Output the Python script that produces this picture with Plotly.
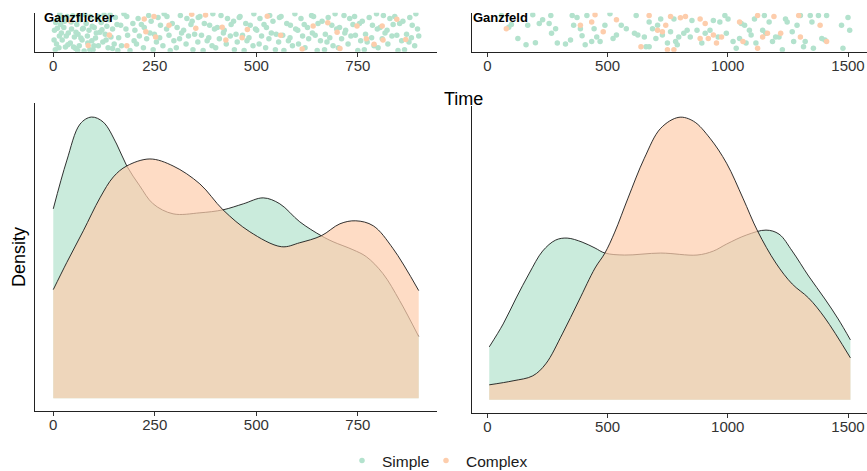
import plotly.graph_objects as go

# ---------------- data ----------------
groups = ["Simple", "Complex"]
colors = {"Simple": "#B3E2CD", "Complex": "#FDCDAC"}
fills = {"Simple": "rgba(179,226,205,0.7)", "Complex": "rgba(253,205,172,0.7)"}
panels = ["Ganzflicker", "Ganzfeld"]

x_ticks_gflk = [0, 250, 500, 750]
x_ticks_gfld = [0, 500, 1000, 1500]

# strip points: (time, jitter)
ganzflicker_simple = [
    (3,.55),(8,.2),(12,.85),(15,.4),(18,.7),(5,.05),(22,.3),(26,.62),(30,.12),(34,.9),(37,.48),(28,.78),
    (42,.22),(45,.58),(48,.92),(52,.38),(55,.08),(58,.7),(61,.45),(64,.15),(67,.82),(71,.3),(74,.6),(78,.95),(76,.02),
    (81,.72),(84,.4),(88,.55),(92,.9),(95,.28),(98,.05),(101,.62),(104,.35),(108,.85),(111,.15),(115,.5),(118,.75),
    (122,.25),(125,.95),(128,.45),(132,.65),(135,.1),(138,.82),(142,.38),(146,.58),(150,.2),(153,.88),(157,.7),(159,.03),
    (2,.3),(6,.75),(10,.6),(14,.1),(20,.48),(24,.88),(32,.4),(36,.18),(44,.76),(50,.12),(56,.5),(62,.92),(68,.35),
    (72,.58),(85,.22),(90,.05),(96,.65),(106,.48),(112,.9),(120,.56),(130,.3),(140,.95),(146,.08),(60,.03),(16,.97),(100,.15),
    (161,.36),(166,.68),(168,.15),(174,.97),(179,.58),(181,.9),(183,.42),(189,.03),(196,.72),(199,.28),
    (201,.55),(205,.2),(209,.85),(212,.4),(217,.7),(222,.1),(224,.62),(230,.33),(235,.93),(238,.48),
    (241,.78),(246,.05),(249,.45),(254,.25),(258,.88),(262,.36),(264,.68),(270,.15),(273,.97),(279,.58),
    (280,.9),(285,.42),(288,.03),(293,.72),(297,.28),(303,.1),(305,.62),(311,.33),(313,.93),(316,.48),
    (321,.55),(327,.2),(329,.85),(333,.4),(339,.7),(342,.78),(344,.05),(348,.45),(356,.25),(357,.88),
    (361,.9),(365,.42),(369,.03),(372,.72),(379,.28),(383,.36),(385,.68),(391,.15),(393,.97),(397,.58),
    (400,.1),(404,.62),(409,.33),(413,.93),(419,.48),(421,.55),(426,.2),(429,.85),(436,.4),(438,.7),
    (444,.78),(446,.05),(450,.45),(453,.25),(458,.88),(460,.9),(466,.42),(470,.03),(474,.72),(477,.28),
    (482,.36),(485,.68),(492,.15),(494,.97),(498,.58),(501,.55),(507,.2),(509,.85),(513,.4),(519,.7),
    (523,.1),(525,.62),(531,.33),(533,.93),(537,.48),(541,.78),(547,.05),(549,.45),(555,.25),(557,.88),
    (561,.9),(565,.42),(568,.03),(575,.72),(579,.28),(583,.36),(584,.68),(589,.15),(595,.97),(597,.58),
    (602,.55),(604,.2),(610,.85),(614,.4),(618,.7),(620,.1),(626,.62),(629,.33),(636,.93),(638,.48),
    (641,.9),(645,.42),(650,.03),(652,.72),(658,.28),(662,.78),(668,.05),(670,.45),(674,.25),(677,.88),
    (681,.36),(686,.68),(689,.15),(694,.97),(698,.58),(702,.1),(705,.62),(710,.33),(716,.93),(718,.48),
    (720,.55),(726,.2),(730,.85),(733,.4),(738,.7),(742,.9),(744,.42),(750,.03),(754,.72),(757,.28),
    (761,.78),(766,.05),(769,.45),(773,.25),(778,.88),(784,.36),(786,.68),(790,.15),(796,.97),(798,.58),
    (800,.1),(805,.62),(810,.33),(813,.93),(817,.48),(822,.55),(824,.2),(829,.85),(834,.4),(837,.7),
    (841,.9),(846,.42),(849,.03),(853,.72),(858,.28),(861,.78),(865,.05),(870,.45),(876,.25),(878,.88),
    (882,.36),(884,.68),(890,.15),(893,.97),(897,.58),(900,.4),
]
ganzflicker_complex = [
    (40,.8),(86,.16),(138,.43),(181,.15),(228,.51),(224,.84),(248,.9),(252,.38),(285,.68),(341,.96),
    (375,.94),(351,.6),(416,.63),(425,.30),(465,.36),(478,.57),(527,.91),(560,.42),(613,.07),(640,.66),
    (676,.74),(699,.5),(706,.08),(748,.66),(771,.33),(790,.19),(810,.66),(846,.83),(868,.31),(812,.3),
]
ganzfeld_simple = [
    (59,.93),(89,.63),(100,.70),(127,.34),(161,.18),(168,.68),(189,.95),(200,.23),(216,.72),(230,.82),
    (257,.72),(264,.93),(267,.47),(284,.59),(291,.22),(325,.2),(346,.3),(353,.93),(359,.68),(373,.88),
    (387,.59),(394,.41),(407,.18),(414,.93),(434,.26),(444,.59),(455,.38),(469,.26),(489,.68),(510,.97),
    (523,.34),(537,.43),(557,.68),(578,.59),(612,.47),(619,.93),(626,.43),(653,.38),(660,.13),(673,.13),
    (673,.76),(687,.59),(701,.34),(708,.68),(721,.84),(728,.43),(749,.22),(762,.51),(776,.84),(783,.26),
    (790,.18),(796,.38),(817,.47),(831,.55),(844,.38),(851,.8),(872,.55),(892,.22),(906,.47),(926,.55),
    (940,.8),(960,.38),(967,.76),(988,.93),(994,.47),(1001,.84),(1022,.26),(1035,.09),(1049,.34),(1056,.72),
    (1070,.68),(1076,.22),(1090,.55),(1097,.43),(1111,.84),(1117,.22),(1145,.55),(1152,.93),(1158,.47),(1172,.76),
    (1186,.26),(1199,.38),(1213,.38),(1227,.05),(1240,.84),(1247,.76),(1268,.51),(1274,.26),(1288,.68),(1302,.93),
    (1315,.13),(1322,.26),(1343,.93),(1350,.76),(1356,.09),(1377,.93),(1391,.34),(1404,.3),(1411,.93),(1473,.68),
    (1479,.09),(1500,.88),(1507,.55),
]
ganzfeld_complex = [
    (79,.59),(387,.68),(434,.76),(448,.95),(482,.51),(537,.82),(639,.13),(673,.93),(708,.55),(728,.51),
    (742,.68),(749,.05),(776,.05),(762,.9),(803,.87),(824,.9),(885,.84),(906,.72),(885,.34),(919,.34),
    (940,.43),(953,.22),(974,.38),(1049,.76),(1063,.26),(1124,.93),(1124,.09),(1192,.9),(1165,.47),(1220,.47),
    (1295,.93),(1302,.38),(1384,.68),(1411,.26),(1145,.38),
]

# density curves: (time, relative density)
dens_ganzflicker_simple = [
    (0,190),(33,238),(66,275),(94,282),(123,277),(156,255),(181,233),(213,213),(246,195),(295,185),(361,186),
    (418,189),(468,195),(517,201),(558,195),(607,177),(660,163),(689,157),(738,149),(771,142),(812,125),(853,98),(900,62),
]
dens_ganzflicker_complex = [
    (0,109),(33,136),(74,168),(115,201),(148,222),(181,233),(238,240),(295,233),(361,215),(418,189),(484,167),
    (562,152),(607,156),(660,163),(706,175),(745,178),(788,173),(837,150),(900,108),
]
dens_ganzfeld_simple = [
    (8,53),(66,76),(120,102),(175,127),(230,149),(284,160),(332,162),(394,158),(448,152),(489,147),(571,145),
    (721,147),(872,145),(940,149),(995,156),(1077,165),(1159,170),(1213,166),(1268,149),(1336,124),(1404,101),
    (1459,81),(1510,60),
]
dens_ganzfeld_complex = [
    (8,15),(107,19),(189,24),(243,36),(312,66),(380,99),(448,132),(489,147),(530,168),(585,202),(653,242),
    (721,272),(797,283),(858,279),(926,262),(995,237),(1063,202),(1124,169),(1200,137),(1268,116),(1336,102),
    (1404,82),(1510,42),
]

# ---------------- layout geometry ----------------
W, H = 867, 471
FONT = "Liberation Sans, Arial, sans-serif"

def px_x(p):
    return p / W

def px_y(p):
    return 1 - p / H

fig = go.Figure()

strips = {
    ("Ganzflicker", "Simple"): ganzflicker_simple,
    ("Ganzflicker", "Complex"): ganzflicker_complex,
    ("Ganzfeld", "Simple"): ganzfeld_simple,
    ("Ganzfeld", "Complex"): ganzfeld_complex,
}
dens = {
    ("Ganzflicker", "Simple"): dens_ganzflicker_simple,
    ("Ganzflicker", "Complex"): dens_ganzflicker_complex,
    ("Ganzfeld", "Simple"): dens_ganzfeld_simple,
    ("Ganzfeld", "Complex"): dens_ganzfeld_complex,
}
axes_strip = {"Ganzflicker": ("x", "y"), "Ganzfeld": ("x2", "y2")}
axes_dens = {"Ganzflicker": ("x3", "y3"), "Ganzfeld": ("x4", "y4")}
legend_of = {"Simple": "legend", "Complex": "legend2"}

for p in panels:
    for g in groups:
        pts = strips[(p, g)]
        xa, ya = axes_strip[p]
        fig.add_trace(go.Scatter(
            x=[t for t, _ in pts], y=[j for _, j in pts], mode="markers",
            marker=dict(color=colors[g], size=5.5, line=dict(width=0)),
            name=g, legendgroup=g, showlegend=(p == "Ganzflicker"), legend=legend_of[g],
            xaxis=xa, yaxis=ya, hoverinfo="skip"))

for p in panels:
    for g in groups:
        pts = dens[(p, g)]
        xa, ya = axes_dens[p]
        fig.add_trace(go.Scatter(
            x=[t for t, _ in pts], y=[d for _, d in pts], mode="lines",
            line=dict(color="#1a1a1a", width=0.9, shape="spline", smoothing=1.0),
            fill="tozeroy", fillcolor=fills[g], name=g, legendgroup=g,
            showlegend=False, xaxis=xa, yaxis=ya, hoverinfo="skip"))

max_l = max(max(d for _, d in dens_ganzflicker_simple), max(d for _, d in dens_ganzflicker_complex))
max_r = max(max(d for _, d in dens_ganzfeld_simple), max(d for _, d in dens_ganzfeld_complex))

tickfont = dict(family=FONT, size=15, color="#333333")
xcommon = dict(showline=True, linecolor="#222222", linewidth=1.1, ticks="outside", ticklen=4,
               tickcolor="#333333", tickwidth=1, showgrid=False, zeroline=False, tickfont=tickfont,
               ticklabelstandoff=-4, ticklabeloverflow="allow")
ycommon = dict(showline=True, linecolor="#222222", linewidth=1.1, ticks="", showticklabels=False,
               showgrid=False, zeroline=False)

left_dom = [px_x(35), px_x(437)]
right_dom = [px_x(471.7), 1.0]
strip_dom = [px_y(51.7), px_y(12.7)]
right_range = [-65, 1579]

legend_common = dict(orientation="h", xanchor="left", yanchor="middle", y=px_y(461),
                     font=dict(family=FONT, size=15.5, color="#1a1a1a"), bgcolor="rgba(0,0,0,0)",
                     itemclick=False, itemdoubleclick=False)

fig.update_layout(
    width=W, height=H, margin=dict(l=0, r=0, t=0, b=0, autoexpand=False),
    paper_bgcolor="white", plot_bgcolor="white",
    font=dict(family=FONT, color="#000000"),
    xaxis=dict(domain=left_dom, range=[-45, 945], tickvals=x_ticks_gflk, anchor="y", **xcommon),
    yaxis=dict(domain=strip_dom, range=[0, 1], anchor="x", **ycommon),
    xaxis2=dict(domain=right_dom, range=right_range, tickvals=x_ticks_gfld, anchor="y2", **xcommon),
    yaxis2=dict(domain=strip_dom, range=[0, 1], anchor="x2", **ycommon),
    xaxis3=dict(domain=left_dom, range=[-45, 945], tickvals=x_ticks_gflk, anchor="y3", **xcommon),
    yaxis3=dict(domain=[px_y(411), px_y(103)], range=[-0.045 * max_l, 1.05 * max_l], anchor="x3", **ycommon),
    xaxis4=dict(domain=right_dom, range=right_range, tickvals=x_ticks_gfld, anchor="y4", **xcommon),
    yaxis4=dict(domain=[px_y(412.5), px_y(106)], range=[-0.045 * max_r, 1.04 * max_r], anchor="x4", **ycommon),
    legend=dict(x=px_x(363 - 21), **legend_common),
    legend2=dict(x=px_x(447 - 21), **legend_common),
    showlegend=True,
    annotations=[
        dict(text="<b>Ganzflicker</b>", x=px_x(42), y=px_y(18), xref="paper", yref="paper",
             xanchor="left", yanchor="middle", showarrow=False, font=dict(family=FONT, size=13, color="#000")),
        dict(text="<b>Ganzfeld</b>", x=px_x(471), y=px_y(17.5), xref="paper", yref="paper",
             xanchor="left", yanchor="middle", showarrow=False, font=dict(family=FONT, size=13, color="#000")),
        dict(text="Time", x=px_x(463), y=px_y(99), xref="paper", yref="paper",
             xanchor="center", yanchor="middle", showarrow=False, font=dict(family=FONT, size=18, color="#000")),
        dict(text="Density", x=px_x(19), y=px_y(257), xref="paper", yref="paper", textangle=-90,
             xanchor="center", yanchor="middle", showarrow=False, font=dict(family=FONT, size=18, color="#000")),
    ],
)

fig.write_html("out.html", config={"displayModeBar": False},
               post_script="document.body.style.margin='0px';document.body.style.overflow='hidden';")
